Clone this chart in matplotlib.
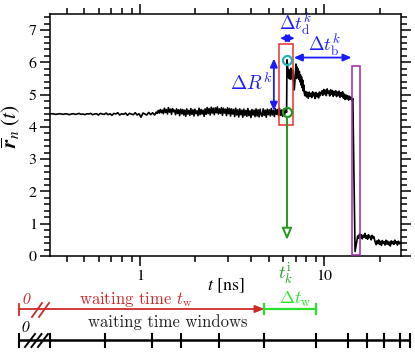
import numpy as np
import matplotlib
matplotlib.use('Agg')
import matplotlib.pyplot as plt
from matplotlib.patches import Rectangle
from matplotlib.ticker import MultipleLocator, NullFormatter, FixedLocator, LogLocator

# ---------------- data ----------------
# baseline before the jump
base_a_span = [0.325, 1.2]
base_a = [4.40, 4.41, 4.40, 4.39, 4.40, 4.41, 4.40, 4.39, 4.41, 4.40,
          4.38, 4.40, 4.41, 4.39, 4.40, 4.42, 4.39, 4.40, 4.38, 4.41,
          4.40, 4.42, 4.38, 4.40, 4.41, 4.37, 4.42, 4.40, 4.39, 4.43,
          4.38, 4.41, 4.36, 4.42, 4.40, 4.44, 4.37, 4.41, 4.39, 4.43,
          4.36, 4.42, 4.40, 4.38, 4.44, 4.37, 4.41, 4.30, 4.43, 4.40,
          4.37, 4.45, 4.38, 4.44, 4.37]
base_b_span = [1.21, 6.25]
base_b = [4.40, 4.46, 4.42, 4.51, 4.43, 4.54, 4.44, 4.52, 4.41, 4.58,
          4.45, 4.54, 4.40, 4.60, 4.46, 4.55, 4.39, 4.57, 4.47, 4.52,
          4.38, 4.56, 4.42, 4.53, 4.35, 4.55, 4.41, 4.54, 4.37, 4.52,
          4.33, 4.56, 4.40, 4.51, 4.36, 4.57, 4.39, 4.53, 4.34, 4.55,
          4.41, 4.50, 4.35, 4.58, 4.38, 4.54, 4.40, 4.52, 4.33, 4.56,
          4.39, 4.60, 4.41, 4.57, 4.37, 4.61, 4.43, 4.58, 4.38, 4.59,
          4.44, 4.62, 4.40, 4.56, 4.42, 4.60, 4.36, 4.58, 4.43, 4.55,
          4.35, 4.59, 4.41, 4.57, 4.34, 4.56, 4.40, 4.54, 4.32, 4.58,
          4.37, 4.53, 4.31, 4.56, 4.38, 4.52, 4.30, 4.55, 4.36, 4.51,
          4.33, 4.57, 4.35, 4.50, 4.29, 4.54, 4.37, 4.52, 4.32, 4.56,
          4.34, 4.53, 4.31, 4.55, 4.38,
          4.33, 4.56, 4.36, 4.52, 4.30, 4.55, 4.38, 4.53, 4.34, 4.57,
          4.37, 4.51, 4.32, 4.56, 4.39, 4.54, 4.35, 4.58, 4.36, 4.52,
          4.33, 4.55, 4.38, 4.53, 4.45]
# first plateau after the jump (starts at the cyan point)
plat1_span = [6.28, 7.8]
plat1 = [6.08, 5.92, 5.55, 5.78,
         5.50, 5.74, 5.48, 5.82, 5.52, 5.70, 5.46, 5.76,
         5.30, 5.15, 5.40,
         5.62, 5.95, 5.50, 5.86, 5.55, 5.80, 5.48, 5.72,
         5.40, 5.62, 5.30, 5.55, 5.22, 5.45, 5.12, 5.30, 5.05]
# second plateau
plat2_span = [7.85, 14.3]
plat2 = [4.97, 5.10, 4.93, 5.07, 4.89, 5.08, 4.95, 5.04, 4.91, 5.09,
         4.96, 5.05, 4.88, 5.07, 4.94, 5.03, 4.90, 5.08, 4.97, 5.06,
         5.12, 4.98, 5.16, 5.02, 5.14, 4.97, 5.18, 5.04, 5.11, 4.96,
         5.15, 5.01, 5.13, 4.95, 5.10,
         4.99, 5.12, 4.94, 5.08, 4.97, 5.11, 4.92, 5.06, 4.95, 5.09,
         4.89, 5.02, 4.85, 4.99, 4.87, 4.97, 4.83, 4.95, 4.86, 4.92,
         4.81, 4.88]
drop_t = [14.7]
drop_r = [0.14]
low1_span = [15.2, 18.8]
low1 = [0.62, 0.55, 0.68, 0.57, 0.66, 0.53, 0.64, 0.58, 0.70, 0.55,
        0.63, 0.52, 0.66, 0.57, 0.61, 0.50, 0.64, 0.56, 0.60, 0.48]
low2_span = [18.9, 26.1]
low2 = [0.44, 0.35, 0.47, 0.38, 0.50, 0.36, 0.45, 0.33, 0.48, 0.39,
        0.44, 0.34, 0.49, 0.37, 0.46, 0.35, 0.43, 0.31, 0.47, 0.38,
        0.45, 0.36, 0.49, 0.40, 0.44, 0.34, 0.46, 0.38, 0.43, 0.40]

# event k
t_event = 6.28
r_before = 4.46
r_after = 6.08
box_d_t = [5.7, 6.78]
box_d_r = [4.07, 6.57]
box_b_t = [14.1, 15.7]
box_b_r = [0.03, 5.9]
dR_t = 5.33
dR_r = [4.5, 6.12]
dtd_r = 6.75
dtd_t = [5.75, 6.93]
dtb_r = 6.15
dtb_t = [6.84, 14.07]
arrow_tip_r = 0.5

# waiting time windows (ns)
tw_end = 4.74
dtw_end = 9.0
window_edges = [0.325, 0.65, 1.157, 1.66, 2.70, 4.74, 9.0, 13.5, 17.0, 21.0, 25.9, 29.1]

xlim = (0.325, 26.1)
ylim = (0, 7.5)

# ---------------- figure ----------------
W, H = 415, 352
fig = plt.figure(figsize=(W / 100, H / 100), dpi=100)
ax = fig.add_axes([50 / W, 96 / H, 351 / W, 242 / H])

segs_t = [np.geomspace(*base_a_span, len(base_a)),
          np.geomspace(*base_b_span, len(base_b)),
          np.geomspace(*plat1_span, len(plat1)),
          np.geomspace(*plat2_span, len(plat2)),
          np.array(drop_t),
          np.geomspace(*low1_span, len(low1)),
          np.geomspace(*low2_span, len(low2))]
segs_r = [base_a, base_b, plat1, plat2, drop_r, low1, low2]
t_all = np.concatenate(segs_t)
r_all = np.concatenate([np.asarray(s, float) for s in segs_r])
ax.plot(t_all, r_all, color='black', lw=1.2, zorder=3)

ax.set_xscale('log')
ax.set_xlim(*xlim)
ax.set_ylim(*ylim)
ax.xaxis.set_major_locator(FixedLocator([1, 10]))
ax.xaxis.set_major_formatter(matplotlib.ticker.FixedFormatter(['1', '10']))
ax.xaxis.set_minor_locator(LogLocator(base=10, subs=np.arange(2, 10)))
ax.xaxis.set_minor_formatter(NullFormatter())
ax.yaxis.set_major_locator(MultipleLocator(1))
ax.yaxis.set_minor_locator(MultipleLocator(0.2))
ax.tick_params(which='both', direction='out', top=True, right=True,
               labeltop=False, labelright=False, width=1.1, labelsize=11.5, pad=2)
ax.tick_params(which='major', length=7.5)
ax.tick_params(which='minor', length=4)
for lab in ax.get_xticklabels() + ax.get_yticklabels():
    lab.set_fontfamily('STIXGeneral')
for sp in ax.spines.values():
    sp.set_linewidth(1.1)

ax.set_xlabel(r'$t$ [ns]', fontsize=13, fontfamily='STIXGeneral', math_fontfamily='stix')
ax.xaxis.set_label_coords(0.5, -0.085)
ax.set_ylabel(r'$\overline{\mathbfit{r}}_n\;(t)$', fontsize=15.5, math_fontfamily='stix')
ax.yaxis.set_label_coords(-0.078, 0.535)

# boxes
ax.add_patch(Rectangle((box_d_t[0], box_d_r[0]), box_d_t[1] - box_d_t[0], box_d_r[1] - box_d_r[0],
                       fill=False, ec='#e8302e', lw=1.1, zorder=4))
ax.add_patch(Rectangle((box_b_t[0], box_b_r[0]), box_b_t[1] - box_b_t[0], box_b_r[1] - box_b_r[0],
                       fill=False, ec='#9a2a9e', lw=1.1, zorder=4))

blue = '#1a1aff'
green_dk = '#1e9a1e'
green_lt = '#2ee02e'
red = '#cc2a2a'

def darrow(a, p0, p1, color, style='<|-|>'):
    a.annotate('', xy=p1, xytext=p0,
               arrowprops=dict(arrowstyle=style + ',head_length=0.5,head_width=0.22',
                               color=color, lw=1.3, shrinkA=0, shrinkB=0,
                               mutation_scale=10), zorder=5)

darrow(ax, (dR_t, dR_r[0]), (dR_t, dR_r[1]), blue)
darrow(ax, (dtd_t[0], dtd_r), (dtd_t[1], dtd_r), blue)
darrow(ax, (dtb_t[0], dtb_r), (dtb_t[1], dtb_r), blue)

ax.text(5.2, 5.16, r'$\Delta R^k$', color=blue, fontsize=14, ha='right', va='baseline',
        math_fontfamily='cm')
ax.text(7.0, 6.99, r'$\Delta t_{\mathrm{d}}^k$', color=blue, fontsize=13.5, ha='center',
        va='baseline', math_fontfamily='cm')
ax.text(9.97, 6.32, r'$\Delta t_{\mathrm{b}}^k$', color=blue, fontsize=13.5, ha='center',
        va='baseline', math_fontfamily='cm')

# green vertical arrow with open head
ax.annotate('', xy=(t_event, arrow_tip_r), xytext=(t_event, r_before),
            arrowprops=dict(arrowstyle='-|>,head_length=0.7,head_width=0.3',
                            ec=green_dk, fc='white', lw=1.4, shrinkA=3.5, shrinkB=0,
                            mutation_scale=10), zorder=5)
ax.plot([t_event], [r_before], 'o', ms=6.5, mfc='none', mec=green_dk, mew=1.6, zorder=6)
ax.plot([t_event], [r_after], 'o', ms=6.5, mfc='none', mec='#1fb5b5', mew=1.6, zorder=6)
ax.text(6.13, -0.17, r'$t_k^{\mathrm{i}}$', color=green_dk, fontsize=13, ha='center', va='top',
        math_fontfamily='cm', clip_on=False)

# ---------------- timeline below ----------------
ax2 = fig.add_axes([50 / W, 0, 351 / W, 67 / H])
ax2.set_axis_off()
ax2.set_xscale('log')
ax2.set_xlim(*xlim)
ax2.set_ylim(0, 67)
yt = ax2.get_yaxis_transform()   # x: axes fraction, y: data
x0 = -31 / 351                   # position of the "0" origin

y_red = 43
y_blk = 12
# red waiting time arrow
ax2.annotate('', xy=(tw_end, y_red), xytext=(x0, y_red), textcoords=yt,
             arrowprops=dict(arrowstyle='-|>,head_length=0.55,head_width=0.22',
                             color=red, lw=1.3, shrinkA=0, shrinkB=0, mutation_scale=10),
             annotation_clip=False)
ax2.plot([x0, x0], [y_red - 5.5, y_red + 5.5], color=red, lw=1.3, transform=yt, clip_on=False)
for dx in (0, 7):
    ax2.plot([(32 + dx - 50) / 351, (42 + dx - 50) / 351], [y_red - 8, y_red + 6],
             color=red, lw=1.3, transform=yt, clip_on=False)
ax2.text((26 - 50) / 351, y_red + 5, '0', color=red, fontsize=11, fontstyle='italic',
         fontfamily='STIXGeneral', ha='center', va='baseline', transform=yt)
ax2.text(0.95, y_red + 5, r'waiting time $t_{\mathrm{w}}$', color=red, fontsize=12,
         fontfamily='cmr10', math_fontfamily='cm', ha='center', va='baseline')

# green delta t_w
ax2.plot([tw_end, dtw_end], [y_red, y_red], color=green_lt, lw=1.6, clip_on=False)
for tt in (tw_end, dtw_end):
    ax2.plot([tt, tt], [y_red - 5, y_red + 5], color=green_lt, lw=1.6, clip_on=False)
ax2.text(7.0, y_red + 5, r'$\Delta t_{\mathrm{w}}$', color=green_lt, fontsize=13,
         math_fontfamily='cm', ha='center', va='baseline')

# black windows timeline
ax2.plot([x0, 0.0], [y_blk, y_blk], color='black', lw=1.8, transform=yt, clip_on=False)
ax2.plot([window_edges[0], window_edges[-1]], [y_blk, y_blk], color='black', lw=1.8,
         clip_on=False, solid_capstyle='butt')
ax2.plot([x0, x0], [y_blk - 6.5, y_blk + 6.5], color='black', lw=1.5, transform=yt, clip_on=False)
for tt in window_edges:
    ax2.plot([tt, tt], [y_blk - 6.5, y_blk + 6.5], color='black', lw=1.5, clip_on=False)
for dx in (0, 6.5, 13):
    ax2.plot([(25 + dx - 50) / 351, (35 + dx - 50) / 351], [y_blk - 7, y_blk + 6],
             color='black', lw=1.4, transform=yt, clip_on=False)
ax2.text((25 - 50) / 351, y_blk + 8, '0', color='black', fontsize=11, fontstyle='italic',
         fontfamily='STIXGeneral', ha='center', va='baseline', transform=yt)
ax2.text(1.42, y_blk + 13, 'waiting time windows', color='#222222', fontsize=12,
         fontfamily='cmr10', ha='center', va='baseline')

fig.savefig('out.png', dpi=100)
